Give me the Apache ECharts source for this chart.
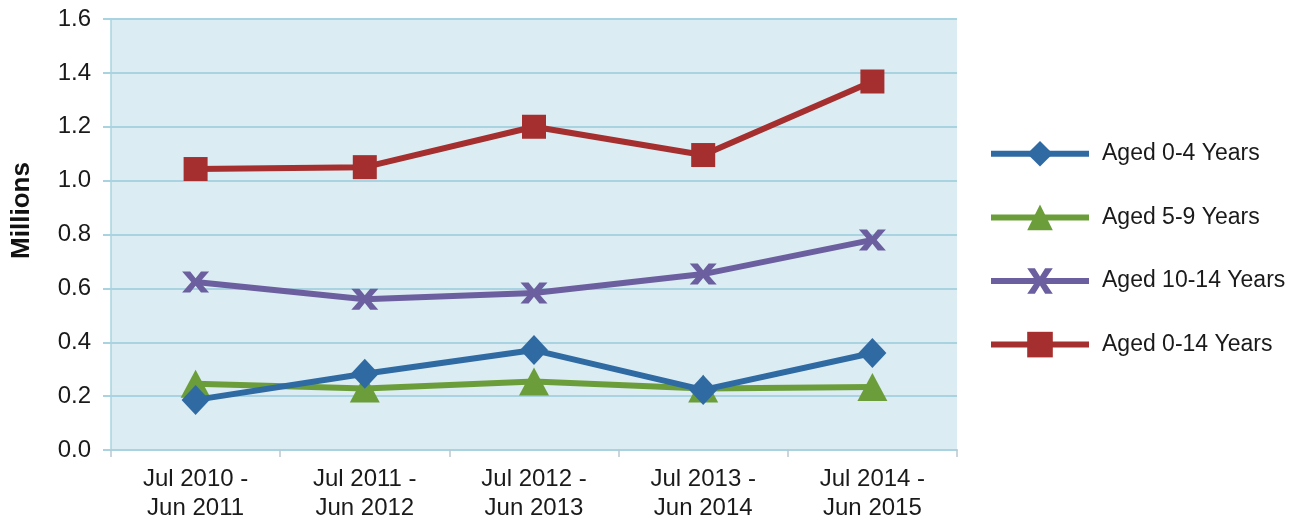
<!DOCTYPE html>
<html>
<head>
<meta charset="utf-8">
<script src="https://cdn.jsdelivr.net/npm/echarts@6/dist/echarts.min.js"></script>
<style>
html,body{margin:0;padding:0;background:#fff;}
#chart{width:1302px;height:518px;}
</style>
</head>
<body>
<div id="chart"></div>
<script>
const categories = ['Jul 2010 -\nJun 2011', 'Jul 2011 -\nJun 2012', 'Jul 2012 -\nJun 2013', 'Jul 2013 -\nJun 2014', 'Jul 2014 -\nJun 2015'];
const aged0to4 = [0.186, 0.283, 0.371, 0.223, 0.360];
const aged5to9 = [0.246, 0.228, 0.254, 0.228, 0.234];
const aged10to14 = [0.624, 0.560, 0.583, 0.653, 0.780];
const aged0to14 = [1.043, 1.050, 1.200, 1.095, 1.368];
const seriesNames = ['Aged 0-4 Years', 'Aged 5-9 Years', 'Aged 10-14 Years', 'Aged 0-14 Years'];
const yTicks = [0, 0.2, 0.4, 0.6, 0.8, 1.0, 1.2, 1.4, 1.6];

const xPath = 'path://M0,0 L3,0 L5,3.2 L7,0 L10,0 L6.6,5 L10,10 L7,10 L5,6.8 L3,10 L0,10 L3.4,5 Z';

const colors = ['#2f6aa3', '#6b9e3b', '#6c5f9f', '#a52f2e'];
const symbols = ['diamond', 'triangle', xPath, 'rect'];
const sizes = [[28, 30], [30, 28], [27, 21], [24, 24]];
const data = [aged0to4, aged5to9, aged10to14, aged0to14];

const chart = echarts.init(document.getElementById('chart'), null, {renderer: 'canvas'});
const font = 'Liberation Sans, Arial, sans-serif';
chart.setOption({
  animation: false,
  textStyle: {fontFamily: font},
  grid: {left: 111, right: 345, top: 19, bottom: 68, show: true, backgroundColor: '#dbecf3', borderWidth: 0, containLabel: false, outerBoundsMode: 'none'},
  legend: {
    orient: 'vertical',
    left: 983,
    top: 136,
    itemWidth: 98,
    itemHeight: 32,
    itemGap: 38,
    lineStyle: {width: 6},
    textStyle: {fontSize: 23, color: '#1a1a1a', fontFamily: font, padding: [0, 0, 0, 8]},
    data: seriesNames
  },
  xAxis: {
    type: 'category',
    data: categories,
    boundaryGap: true,
    axisLine: {show: true, lineStyle: {color: '#a9d3e0', width: 2}},
    axisTick: {show: true, length: 7, lineStyle: {color: '#b9c9cf', width: 1.5}},
    axisLabel: {fontSize: 24, color: '#1a1a1a', lineHeight: 29, margin: 15, fontFamily: font}
  },
  yAxis: {
    type: 'value',
    min: yTicks[0],
    max: yTicks[yTicks.length - 1],
    interval: 0.2,
    name: 'Millions',
    nameLocation: 'middle',
    nameGap: 76,
    nameTextStyle: {fontSize: 26, fontWeight: 'bold', color: '#111', fontFamily: font, padding: [0, 0, 0, 48]},
    axisLine: {show: true, lineStyle: {color: '#a9d3e0', width: 1.5}},
    axisTick: {show: true, length: 8, lineStyle: {color: '#a9d3e0', width: 2}},
    splitLine: {show: true, lineStyle: {color: '#a9d3e0', width: 2}},
    axisLabel: {fontSize: 24, color: '#1a1a1a', margin: 20, fontFamily: font, formatter: v => v.toFixed(1)}
  },
  series: seriesNames.map((n, i) => ({
    name: n,
    type: 'line',
    data: data[i],
    symbol: symbols[i],
    symbolSize: sizes[i],
    showAllSymbol: true,
    z: i === 0 ? 5 : 3,
    lineStyle: {color: colors[i], width: 6},
    itemStyle: {color: colors[i], borderWidth: 0}
  }))
});
</script>
</body>
</html>
